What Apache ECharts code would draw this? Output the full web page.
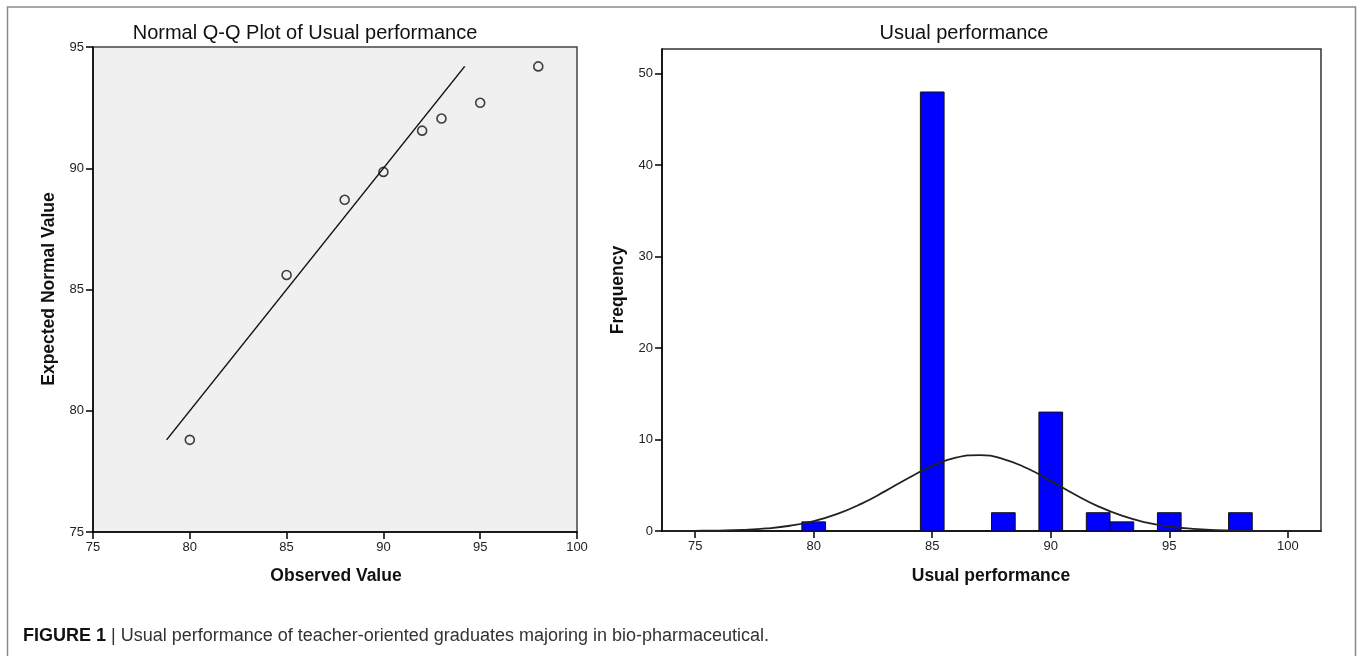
<!DOCTYPE html>
<html>
<head>
<meta charset="utf-8">
<script src="https://cdn.jsdelivr.net/npm/echarts@6/dist/echarts.min.js"></script>
<style>
html,body{margin:0;padding:0;background:#fff;}
#c{width:1357px;height:656px;}
</style>
</head>
<body>
<div id="c"></div>
<script>
// Q-Q plot data
const qqObserved = [80, 85, 88, 90, 92, 93, 95, 98];
const qqExpected = [78.8, 85.6, 88.7, 89.85, 91.55, 92.05, 92.7, 94.2];
const qqLineX = [78.8, 94.2];
const qqLineY = [78.8, 94.2];
const qqTicks = [75, 80, 85, 90, 95, 100];

// Histogram data
const histScores = [80, 85, 88, 90, 92, 93, 95, 98];
const histFreq = [1, 48, 2, 13, 2, 1, 2, 2];
const histXTicks = [75, 80, 85, 90, 95, 100];
const histYTicks = [0, 10, 20, 30, 40, 50];

// Normal curve
const curveX = [73.6, 74, 75, 76, 77, 78, 79, 80, 81, 82, 83, 84, 85, 86, 87, 88, 89, 90, 91, 92, 93, 94, 95, 96, 97, 98, 99, 100, 101, 101.4];
const curveY = [0.004, 0.007, 0.019, 0.051, 0.124, 0.278, 0.573, 1.08, 1.87, 2.97, 4.33, 5.80, 7.12, 8.02, 8.30, 7.87, 6.86, 5.48, 4.02, 2.70, 1.67, 0.946, 0.492, 0.235, 0.103, 0.041, 0.015, 0.005, 0.002, 0.001];

const FONT = '"Liberation Sans", Arial, Helvetica, sans-serif';

const chart = echarts.init(document.getElementById('c'), null, {renderer: 'canvas'});

const axisCommon = {
  axisLine: {show: true, onZero: false, lineStyle: {color: '#000', width: 1.5}},
  axisTick: {show: true, inside: false, length: 7, lineStyle: {color: '#000', width: 1.5}},
  axisLabel: {color: '#222', fontFamily: FONT, fontSize: 13, margin: 9},
  splitLine: {show: false}
};

const option = {
  animation: false,
  backgroundColor: '#fff',
  grid: [
    {left: 93, top: 47, width: 484, height: 485, show: true, backgroundColor: '#f0f0f0', borderColor: '#444', borderWidth: 1.5},
    {left: 662, top: 49, width: 659, height: 482, show: true, backgroundColor: '#fff', borderColor: '#333', borderWidth: 1.5}
  ],
  xAxis: [
    Object.assign({}, axisCommon, {
      type: 'value', gridIndex: 0, min: 75, max: 100, interval: 5
    }),
    Object.assign({}, axisCommon, {
      type: 'value', gridIndex: 1, min: 73.6, max: 101.4,
      axisTick: Object.assign({}, axisCommon.axisTick, {customValues: histXTicks}),
      axisLabel: Object.assign({}, axisCommon.axisLabel, {customValues: histXTicks})
    })
  ],
  yAxis: [
    Object.assign({}, axisCommon, {
      type: 'value', gridIndex: 0, min: 75, max: 95, interval: 5
    }),
    Object.assign({}, axisCommon, {
      type: 'value', gridIndex: 1, min: 0, max: 52.7,
      axisTick: Object.assign({}, axisCommon.axisTick, {customValues: histYTicks}),
      axisLabel: Object.assign({}, axisCommon.axisLabel, {customValues: histYTicks})
    })
  ],
  series: [
    {
      type: 'line', xAxisIndex: 0, yAxisIndex: 0,
      data: qqLineX.map((x, i) => [x, qqLineY[i]]),
      symbol: 'none', lineStyle: {color: '#111', width: 1.5}, z: 2, silent: true
    },
    {
      type: 'scatter', xAxisIndex: 0, yAxisIndex: 0,
      data: qqObserved.map((x, i) => [x, qqExpected[i]]),
      symbol: 'circle', symbolSize: 9,
      itemStyle: {color: 'rgba(0,0,0,0)', borderColor: '#111', borderWidth: 1.6}, z: 3
    },
    {
      type: 'custom', xAxisIndex: 1, yAxisIndex: 1,
      data: histScores.map((x, i) => [x, histFreq[i]]),
      renderItem: function (params, api) {
        const x = api.value(0), y = api.value(1);
        const p0 = api.coord([x - 0.5, 0]);
        const p1 = api.coord([x + 0.5, y]);
        return {
          type: 'rect',
          shape: {x: p0[0], y: p1[1], width: p1[0] - p0[0], height: p0[1] - p1[1]},
          style: {fill: '#0000ff', stroke: '#111', lineWidth: 1}
        };
      },
      z: 2
    },
    {
      type: 'line', xAxisIndex: 1, yAxisIndex: 1,
      data: curveX.map((x, i) => [x, curveY[i]]),
      smooth: true, symbol: 'none', lineStyle: {color: '#222', width: 1.8}, z: 4, silent: true
    }
  ],
  graphic: [
    {type: 'rect', shape: {x: 7.5, y: 7, width: 1348, height: 720}, style: {fill: 'none', stroke: '#8a8a8a', lineWidth: 1.5}, silent: true},
    {type: 'text', x: 305, y: 33, style: {text: 'Normal Q-Q Plot of Usual performance', font: '20px ' + FONT, fill: '#111', textAlign: 'center', textVerticalAlign: 'middle'}},
    {type: 'text', x: 964, y: 33, style: {text: 'Usual performance', font: '20px ' + FONT, fill: '#111', textAlign: 'center', textVerticalAlign: 'middle'}},
    {type: 'text', x: 49, y: 289, rotation: Math.PI / 2, style: {text: 'Expected Normal Value', font: 'bold 17.5px ' + FONT, fill: '#111', textAlign: 'center', textVerticalAlign: 'middle'}},
    {type: 'text', x: 336, y: 576, style: {text: 'Observed Value', font: 'bold 17.5px ' + FONT, fill: '#111', textAlign: 'center', textVerticalAlign: 'middle'}},
    {type: 'text', x: 618, y: 290, rotation: Math.PI / 2, style: {text: 'Frequency', font: 'bold 17.5px ' + FONT, fill: '#111', textAlign: 'center', textVerticalAlign: 'middle'}},
    {type: 'text', x: 991, y: 576, style: {text: 'Usual performance', font: 'bold 17.5px ' + FONT, fill: '#111', textAlign: 'center', textVerticalAlign: 'middle'}},
    {type: 'text', x: 23, y: 636, style: {
      text: '{b|FIGURE 1} {s||} {n|Usual performance of teacher-oriented graduates majoring in bio-pharmaceutical.}',
      textAlign: 'left', textVerticalAlign: 'middle',
      rich: {
        b: {fontFamily: FONT, fontSize: 18, fontWeight: 'bold', fill: '#111', color: '#111'},
        s: {fontFamily: FONT, fontSize: 18, color: '#222'},
        n: {fontFamily: FONT, fontSize: 18, color: '#333'}
      },
      font: '18px ' + FONT, fill: '#333'
    }}
  ]
};

chart.setOption(option);
</script>
</body>
</html>
